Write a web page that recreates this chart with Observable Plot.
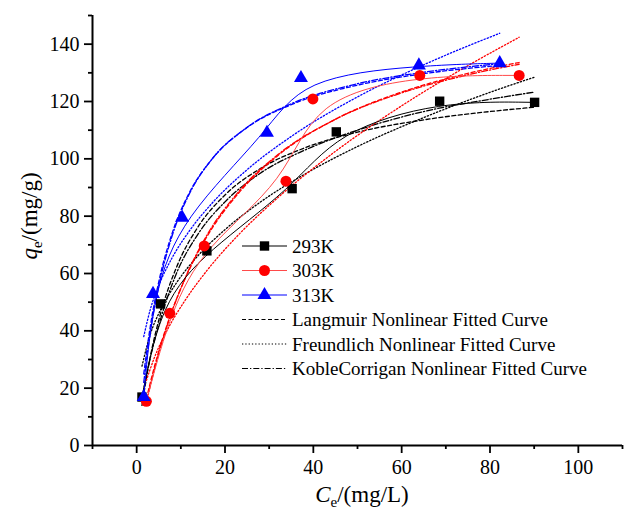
<!DOCTYPE html>
<html><head><meta charset="utf-8">
<script src="https://cdn.jsdelivr.net/npm/d3@7"></script>
<script src="https://cdn.jsdelivr.net/npm/@observablehq/plot@0.6"></script>
<style>
body{margin:0;background:#fff}
#chart{position:relative;width:625px;height:511px}
</style>
</head><body><div id="chart"></div>
<script>
// ---- data ----
const xTicks = [0, 20, 40, 60, 80, 100];
const xMinor = [-10, 10, 30, 50, 70, 90, 110];
const yTicks = [0, 20, 40, 60, 80, 100, 120, 140];
const yMinor = [10, 30, 50, 70, 90, 110, 130, 150];

const temps = ["293K", "303K", "313K"];
const c293 = [1.2, 5.4, 15.9, 35.2, 45.2, 68.6, 90.1];
const q293 = [16.9, 49.4, 67.9, 89.6, 109.4, 120.1, 119.7];
const c303 = [2.2, 7.5, 15.3, 33.8, 39.9, 64.1, 86.6];
const q303 = [15.4, 46.1, 69.6, 92.2, 120.9, 129.1, 129.1];
const c313 = [1.6, 3.7, 10.3, 29.5, 37.2, 63.9, 82.2];
const q313 = [16.9, 52.9, 79.5, 109.1, 128.2, 132.6, 133.4];

// fitted curves
const fitC293 = [1.2, 3, 5.4, 9, 14, 20, 28, 38, 50, 65, 80, 90.1];
const lang293 = [14.0, 30.3, 46.0, 62.1, 76.5, 87.4, 96.6, 103.8, 109.3, 113.6, 116.5, 118.0];
const freu293 = [27.7, 38.4, 47.3, 56.7, 66.4, 75.3, 84.9, 94.6, 104.3, 114.4, 123.2, 128.5];
const kc293   = [16.5, 30.0, 44.0, 60.0, 74.0, 85.0, 95.0, 103.0, 110.0, 116.5, 120.8, 123.3];

const fitC303 = [2.2, 4, 7, 11, 16, 23, 32, 45, 60, 75, 86.6];
const lang303 = [16.3, 27.4, 42.6, 58.3, 73.1, 87.9, 101.2, 113.8, 123.3, 129.8, 133.6];
const freu303 = [22.7, 30.6, 40.5, 50.7, 61.2, 73.4, 86.5, 102.6, 118.5, 132.5, 142.4];
const kc303   = [15.0, 26.5, 42.3, 58.5, 73.6, 88.4, 101.5, 113.8, 123.0, 129.3, 133.0];

const fitC313 = [1.6, 3, 5, 8, 12, 17, 25, 35, 50, 65, 82.2];
const lang313 = [25.0, 40.7, 57.1, 73.9, 88.4, 99.8, 110.9, 118.9, 125.7, 129.7, 132.6];
const freu313 = [38.0, 47.0, 55.8, 65.4, 75.0, 84.4, 96.2, 107.8, 121.6, 132.8, 143.8];
const kc313   = [22.0, 38.5, 55.5, 73.0, 88.0, 99.8, 111.0, 119.2, 126.2, 130.2, 133.2];

const fitNames = ["Langmuir Nonlinear Fitted Curve", "Freundlich Nonlinear Fitted Curve", "KobleCorrigan Nonlinear Fitted Curve"];

// ---- styles ----
const colors = {"293K": "#000000", "303K": "#ff0000", "313K": "#0000ff"};
const lineColors = {"293K": "#000000", "303K": "#ff4a4a", "313K": "#0000ff"};
const symbols = {"293K": "square", "303K": "circle", "313K": "triangle"};
const radii = {"293K": 5.3, "303K": 5.5, "313K": 5.2};
const dashes = ["4,2.5", "1.3,2", "6,2,1.3,2"];

const toRows = (cs, qs, temp) => cs.map((c, i) => ({c, q: qs[i], temp}));
const pts = {
  "293K": toRows(c293, q293, "293K"),
  "303K": toRows(c303, q303, "303K"),
  "313K": toRows(c313, q313, "313K")
};
const fits = [
  {temp: "293K", k: 0, rows: toRows(fitC293, lang293, "293K")},
  {temp: "293K", k: 1, rows: toRows(fitC293, freu293, "293K")},
  {temp: "293K", k: 2, rows: toRows(fitC293, kc293, "293K")},
  {temp: "303K", k: 0, rows: toRows(fitC303, lang303, "303K")},
  {temp: "303K", k: 1, rows: toRows(fitC303, freu303, "303K")},
  {temp: "303K", k: 2, rows: toRows(fitC303, kc303, "303K")},
  {temp: "313K", k: 0, rows: toRows(fitC313, lang313, "313K")},
  {temp: "313K", k: 1, rows: toRows(fitC313, freu313, "313K")},
  {temp: "313K", k: 2, rows: toRows(fitC313, kc313, "313K")}
];

const FONT = "'Liberation Serif', 'Times New Roman', serif";

const marks = [
  Plot.axisX({ticks: xTicks, tickSize: 8, tickPadding: 6, strokeWidth: 1.8, fontSize: 20, label: null}),
  Plot.axisX({ticks: xMinor, tickSize: 4, text: null, strokeWidth: 1.8, label: null}),
  Plot.axisY({ticks: yTicks, tickSize: 8, tickPadding: 5, strokeWidth: 1.8, fontSize: 20, label: null}),
  Plot.axisY({ticks: yMinor, tickSize: 4, text: null, strokeWidth: 1.8, label: null}),
  Plot.ruleY([0], {strokeWidth: 2}),
  Plot.ruleX([-10], {strokeWidth: 2})
];
for (const f of fits) {
  marks.push(Plot.line(f.rows, {x: "c", y: "q", stroke: colors[f.temp], strokeWidth: 1.3,
    strokeDasharray: dashes[f.k], curve: "monotone-x"}));
}
for (const t of temps) {
  marks.push(Plot.line(pts[t], {x: "c", y: "q", stroke: lineColors[t], strokeWidth: 1, curve: "basis"}));
}
for (const t of temps) {
  marks.push(Plot.dot(pts[t], {x: "c", y: "q", symbol: () => symbols[t], r: radii[t], fill: colors[t], stroke: "none"}));
}

const chart = Plot.plot({
  width: 625, height: 511,
  marginLeft: 92, marginRight: 3, marginTop: 15, marginBottom: 66,
  x: {domain: [-10, 110]},
  y: {domain: [0, 150]},
  style: {fontFamily: FONT, fontSize: "20px", background: "white", color: "black", overflow: "visible"},
  marks
});
document.getElementById("chart").appendChild(chart);

// ---- axis titles & legend ----
const svg = d3.select(chart);
const yt = svg.append("text")
  .attr("transform", "translate(37,216) rotate(-90)")
  .attr("text-anchor", "middle")
  .attr("font-family", FONT).attr("font-size", 23).attr("fill", "black");
yt.append("tspan").attr("font-style", "italic").text("q");
yt.append("tspan").attr("font-size", 15).attr("dy", 5).text("e");
yt.append("tspan").attr("dy", -5).text("/(mg/g)");

const xt = svg.append("text")
  .attr("x", 362).attr("y", 502)
  .attr("text-anchor", "middle")
  .attr("font-family", FONT).attr("font-size", 23).attr("fill", "black");
xt.append("tspan").attr("font-style", "italic").text("C");
xt.append("tspan").attr("font-size", 15).attr("dy", 5).text("e");
xt.append("tspan").attr("dy", -5).text("/(mg/L)");

const lg = svg.append("g").attr("font-family", FONT).attr("font-size", 19).attr("text-anchor", "start");
const rowY = i => 246 + i * 24.5;
const symMap = {square: d3.symbolSquare, circle: d3.symbolCircle, triangle: d3.symbolTriangle};
temps.forEach((t, i) => {
  const y = rowY(i);
  lg.append("line").attr("x1", 242).attr("x2", 287).attr("y1", y).attr("y2", y)
    .attr("stroke", lineColors[t]).attr("stroke-width", 1.2);
  lg.append("path").attr("transform", `translate(264.5,${y})`)
    .attr("d", d3.symbol(symMap[symbols[t]], Math.PI * radii[t] * radii[t])())
    .attr("fill", colors[t]);
  lg.append("text").attr("x", 292).attr("y", y).attr("dy", "0.35em").attr("text-anchor", "start").text(t);
});
fitNames.forEach((n, k) => {
  const y = rowY(3 + k);
  lg.append("line").attr("x1", 242).attr("x2", 287).attr("y1", y).attr("y2", y)
    .attr("stroke", "black").attr("stroke-width", 1.2).attr("stroke-dasharray", dashes[k]);
  lg.append("text").attr("x", 292).attr("y", y).attr("dy", "0.35em").attr("text-anchor", "start").text(n);
});
</script></body></html>
